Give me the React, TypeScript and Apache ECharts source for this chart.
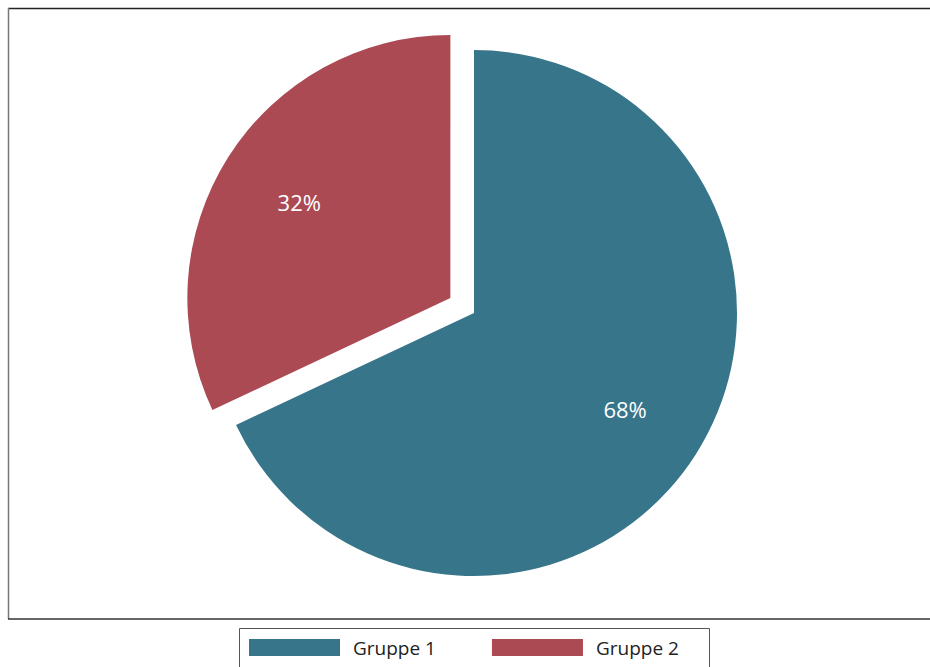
import React, { useEffect, useRef } from "react";
import * as echarts from "echarts";

const categories = ["Gruppe 1", "Gruppe 2"];
const values = [68, 32];
const colors = ["#37758a", "#ac4a54"];
const explodedIndex = 1;

export default function App() {
  const ref = useRef<HTMLDivElement>(null);
  useEffect(() => {
    document.body.style.margin = "0";
    const chart = echarts.init(ref.current!, null, { renderer: "svg" });
    const font = "'Open Sans', 'Noto Sans', sans-serif";
    const data = categories.map((name, i) => ({
      name,
      value: values[i],
      selected: i === explodedIndex,
      itemStyle: { color: colors[i] },
    }));
    const labelData = categories.map((name, i) => ({
      name,
      value: values[i],
      selected: i === explodedIndex,
    }));
    chart.setOption({
      animation: false,
      backgroundColor: "#ffffff",
      legend: {
        data: categories,
        left: 249,
        top: 638,
        padding: 0,
        icon: "rect",
        itemWidth: 91,
        itemHeight: 17,
        itemGap: 56,
        textStyle: {
          fontFamily: font,
          fontSize: 19,
          color: "#222",
          padding: [0, 0, 0, 8],
        },
        selectedMode: false,
      },
      graphic: [
        { type: "line", shape: { x1: 8, y1: 8.5, x2: 930, y2: 8.5 }, style: { stroke: "#222", lineWidth: 1.5 } },
        { type: "line", shape: { x1: 8.5, y1: 8, x2: 8.5, y2: 619 }, style: { stroke: "#777", lineWidth: 1.5 } },
        { type: "line", shape: { x1: 8, y1: 619, x2: 930, y2: 619 }, style: { stroke: "#333", lineWidth: 1.5 } },
        { type: "rect", shape: { x: 239.5, y: 628.5, width: 470, height: 60 }, style: { fill: "none", stroke: "#555", lineWidth: 1 } },
      ],
      series: [
        {
          type: "pie",
          center: [474, 313],
          radius: [0, 263],
          startAngle: 90,
          clockwise: true,
          selectedMode: "single",
          selectedOffset: 28,
          silent: true,
          label: { show: false },
          labelLine: { show: false },
          emphasis: { disabled: true },
          select: { itemStyle: {} },
          data,
        },
        {
          type: "pie",
          center: [474, 313],
          radius: [0, 352],
          startAngle: 90,
          clockwise: true,
          selectedMode: "single",
          selectedOffset: 28,
          silent: true,
          itemStyle: { color: "rgba(0,0,0,0)" },
          label: {
            show: true,
            position: "inside",
            formatter: "{c}%",
            color: "#ffffff",
            fontFamily: font,
            fontSize: 22,
          },
          labelLine: { show: false },
          emphasis: { disabled: true },
          data: labelData,
        },
      ],
    });
    return () => chart.dispose();
  }, []);
  return <div ref={ref} style={{ width: 930, height: 667 }} />;
}
